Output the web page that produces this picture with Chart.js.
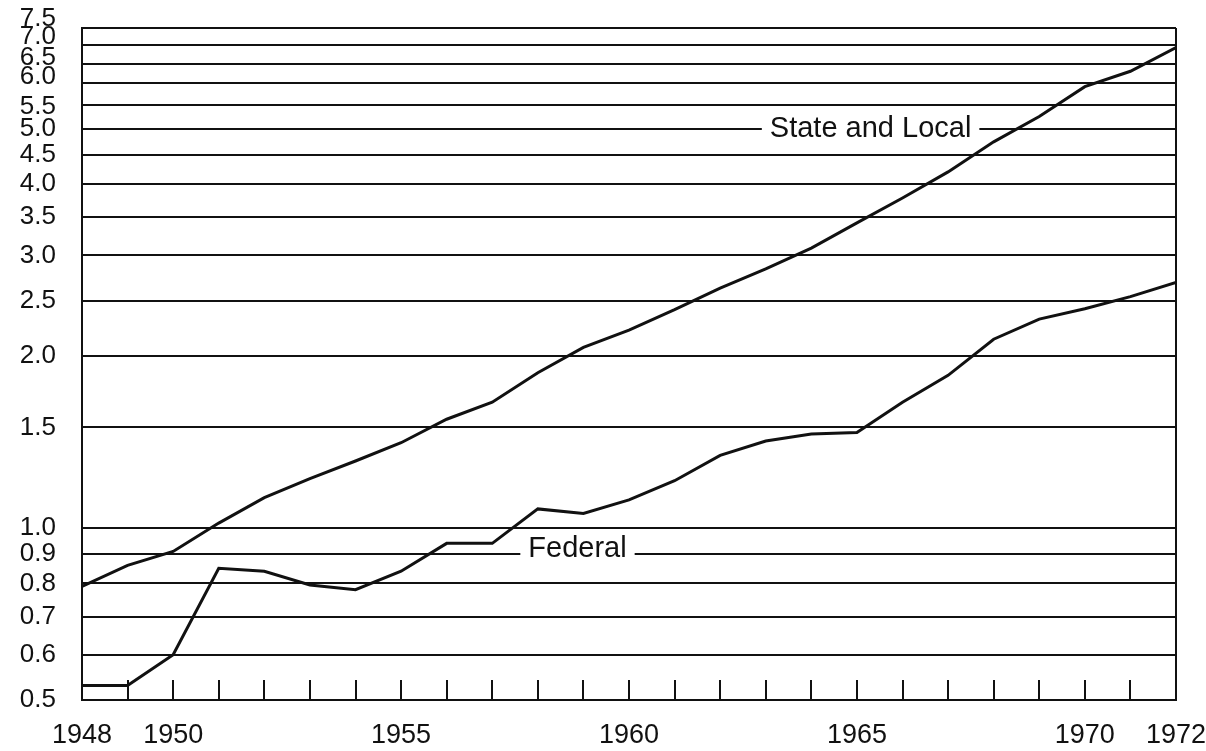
<!DOCTYPE html>
<html>
<head>
<meta charset="utf-8">
<script src="https://cdn.jsdelivr.net/npm/chart.js@4.4.1/dist/chart.umd.min.js"></script>
<style>
    html, body { margin: 0; padding: 0; background: #ffffff; }
    #wrap { width: 1206px; height: 751px; position: relative; }
</style>
</head>
<body>
<div id="wrap"><canvas id="chart"></canvas></div>
<script>
// Years on the horizontal axis
const YEARS = [1948, 1949, 1950, 1951, 1952, 1953, 1954, 1955, 1956, 1957, 1958, 1959, 1960,
    1961, 1962, 1963, 1964, 1965, 1966, 1967, 1968, 1969, 1970, 1971, 1972];

// Series values (log scale)
const STATE_LOCAL = [0.79, 0.86, 0.91, 1.02, 1.13, 1.22, 1.31, 1.41, 1.55, 1.66, 1.87, 2.07, 2.22,
    2.41, 2.63, 2.84, 3.09, 3.42, 3.78, 4.20, 4.74, 5.25, 5.92, 6.30, 6.93];
const FEDERAL = [0.53, 0.53, 0.60, 0.85, 0.84, 0.795, 0.78, 0.84, 0.94, 0.94, 1.08, 1.06, 1.12,
    1.21, 1.34, 1.42, 1.46, 1.47, 1.66, 1.85, 2.14, 2.32, 2.42, 2.54, 2.69];

// Tick labels
const Y_TICKS = [0.5, 0.6, 0.7, 0.8, 0.9, 1.0, 1.5, 2.0, 2.5, 3.0, 3.5, 4.0, 4.5, 5.0, 5.5, 6.0, 6.5, 7.0, 7.5];
const X_LABELED = [1948, 1950, 1955, 1960, 1965, 1970, 1972];

// In-plot series labels
const SERIES_LABELS = ['State and Local', 'Federal'];
const SERIES_LABEL_X = [1965.3, 1958.87];
const SERIES_LABEL_Y = [5.0, 0.92];

const FONT = "'Liberation Sans', Arial, sans-serif";
const INK = '#111111';

// crowded labels at the top of the axis are pushed up a little (px)
const Y_LABEL_NUDGE = { 7.5: -9, 7: -8, 6.5: -6, 6: -7, 5.5: 2 };

/**
 * Draws the y tick labels and the boxed series labels sitting on the grid lines
 */
const labelsPlugin = {
    id: 'labels',
    afterDraw(chart) {
        const ctx = chart.ctx;
        const x = chart.scales.x;
        const y = chart.scales.y;

        ctx.save();
        ctx.fillStyle = INK;
        ctx.font = `26px ${FONT}`;
        ctx.textAlign = 'right';
        ctx.textBaseline = 'middle';
        Y_TICKS.forEach(v => {
            const nudge = Y_LABEL_NUDGE[v] || 0;
            ctx.fillText(v.toFixed(1), 56, y.getPixelForValue(v) + nudge);
        });

        ctx.font = `29px ${FONT}`;
        ctx.textAlign = 'center';
        SERIES_LABELS.forEach((text, i) => {
            const px = x.getPixelForValue(SERIES_LABEL_X[i]);
            const py = y.getPixelForValue(SERIES_LABEL_Y[i]);
            const w = ctx.measureText(text).width + 16;
            ctx.fillStyle = '#ffffff';
            ctx.fillRect(px - w / 2, py - 14, w, 28);
            ctx.fillStyle = INK;
            ctx.fillText(text, px, py);
        });
        ctx.restore();
    }
};

const lineStyle = {
    borderColor: INK,
    borderWidth: 3,
    pointRadius: 0,
    tension: 0,
    fill: false
};

new Chart(document.getElementById('chart').getContext('2d'), {
    type: 'line',
    data: {
        datasets: [
            { label: 'State and Local', data: YEARS.map((yr, i) => ({ x: yr, y: STATE_LOCAL[i] })), ...lineStyle },
            { label: 'Federal', data: YEARS.map((yr, i) => ({ x: yr, y: FEDERAL[i] })), ...lineStyle }
        ]
    },
    options: {
        responsive: true,
        maintainAspectRatio: false,
        animation: false,
        layout: {
            padding: { left: 82, right: 30, top: 28, bottom: 0 }
        },
        plugins: {
            legend: { display: false },
            tooltip: { enabled: false }
        },
        scales: {
            x: {
                type: 'linear',
                min: 1948,
                max: 1972,
                afterBuildTicks: scale => {
                    scale.ticks = YEARS.map(v => ({ value: v }));
                },
                afterFit: scale => {
                    scale.height = 51;
                    scale.paddingLeft = 0;
                    scale.paddingRight = 0;
                },
                border: { display: true, color: INK, width: 2 },
                grid: {
                    // only the 1972 line shows, closing the frame on the right
                    color: c => (c.tick && c.tick.value === 1972 ? INK : 'rgba(0,0,0,0)'),
                    lineWidth: 2,
                    drawOnChartArea: true,
                    drawTicks: true,
                    tickLength: -20,
                    tickColor: INK,
                    tickWidth: 2
                },
                ticks: {
                    autoSkip: false,
                    maxRotation: 0,
                    padding: 39,
                    color: INK,
                    font: { family: FONT, size: 27 },
                    callback: function(value) {
                        return X_LABELED.includes(value) ? String(value) : '';
                    }
                }
            },
            y: {
                type: 'logarithmic',
                min: 0.5,
                max: 7.5,
                afterBuildTicks: scale => {
                    scale.ticks = Y_TICKS.map(v => ({ value: v }));
                },
                border: { display: true, color: INK, width: 2 },
                grid: {
                    color: INK,
                    lineWidth: 2,
                    drawTicks: false
                },
                ticks: { display: false }
            }
        }
    },
    plugins: [labelsPlugin]
});
</script>
</body>
</html>
